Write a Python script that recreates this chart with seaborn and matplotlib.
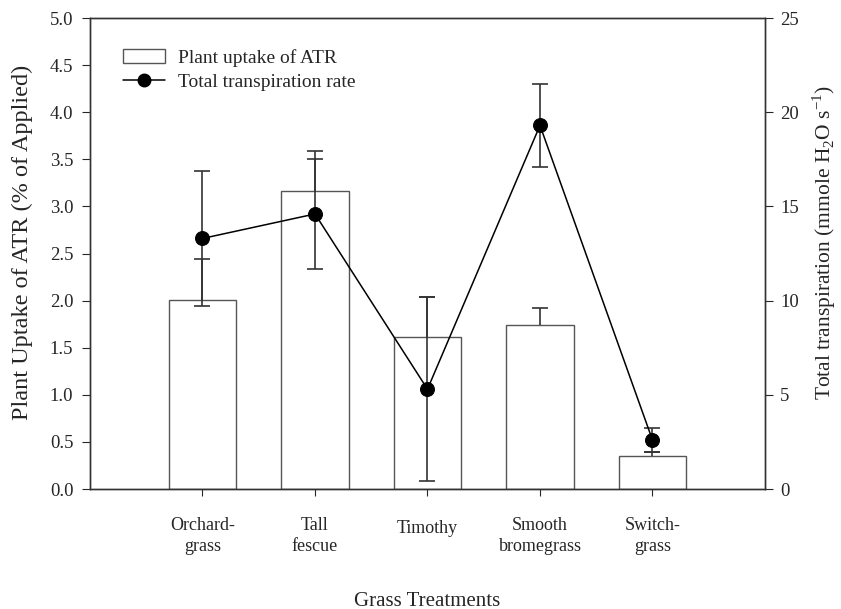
import matplotlib
matplotlib.use("Agg")
import matplotlib.pyplot as plt
import matplotlib.transforms as mtransforms
import numpy as np
import seaborn as sns
from matplotlib.patches import Patch
from matplotlib.lines import Line2D

# data
grasses = ["Orchard-\ngrass", "Tall\nfescue", "Timothy", "Smooth\nbromegrass", "Switch-\ngrass"]
uptake = [2.01, 3.16, 1.61, 1.74, 0.35]          # % of applied
uptake_se = [0.43, 0.43, 0.43, 0.18, 0.04]
transp = [13.3, 14.6, 5.3, 19.3, 2.6]             # mmole H2O s-1
transp_se = [3.6, 2.9, 4.9, 2.2, 0.66]

sns.set_style("ticks")
plt.rcParams["font.family"] = ["Liberation Serif", "DejaVu Serif"]
plt.rcParams["mathtext.fontset"] = "custom"
plt.rcParams["mathtext.rm"] = "Liberation Serif"

edge = "#555555"
err_col = "#333333"
pos = np.arange(len(grasses))

fig, ax = plt.subplots(figsize=(8.41, 6.09), dpi=100)
fig.subplots_adjust(left=0.107, right=0.9096, top=0.9704, bottom=0.197)

sns.barplot(x=pos, y=uptake, ax=ax, color="white", edgecolor=edge,
            linewidth=1.0, width=0.6, native_scale=True, saturation=1)
# upper-only error bars on the bars (no cap at the bar top)
bar_top = np.array(uptake) + np.array(uptake_se)
ax.vlines(pos, uptake, bar_top, color=err_col, linewidth=1.2)
ax.plot(pos, bar_top, ls="none", marker="_", markersize=11,
        markeredgewidth=1.2, color=err_col)

ax.set_xlim(-1, 5)
ax.set_ylim(0, 5)
yt = np.arange(0, 5.01, 0.5)
ax.set_yticks(yt)
ax.set_yticklabels([f"{v:.1f}" for v in yt])
ax.set_xticks(pos)
ax.set_xticklabels(grasses, va="center", linespacing=1.3)
ax.tick_params(axis="x", length=5, pad=29, labelsize=13)
ax.tick_params(axis="y", length=6, pad=6, labelsize=13.5)
# single-line label sits a bit higher, as in the original
for lab in ax.get_xticklabels():
    if "\n" not in lab.get_text():
        lab.set_transform(lab.get_transform() +
                          mtransforms.ScaledTranslation(0, 5.5 / 72, fig.dpi_scale_trans))

ax.set_ylabel("Plant Uptake of ATR (% of Applied)", fontsize=17.5)
ax.yaxis.set_label_coords(-0.085, 0.524)
ax.set_xlabel("Grass Treatments", fontsize=15, va="center")
ax.xaxis.set_label_coords(0.5, -0.238)

ax2 = ax.twinx()
ax2.errorbar(pos, transp, yerr=transp_se, fmt="none", ecolor=err_col,
             elinewidth=1.2, capsize=5.5, capthick=1.2)
sns.lineplot(x=pos, y=transp, ax=ax2, color="black", linewidth=1.1,
             marker="o", markersize=10, markeredgecolor="black")
ax2.set_ylim(0, 25)
ax2.set_yticks(np.arange(0, 26, 5))
ax2.tick_params(axis="y", length=6, pad=5, labelsize=13.5)
ax2.set_ylabel(r"Total transpiration (mmole H$_\mathregular{2}$O s$^\mathregular{-1}$)",
               fontsize=15.5, rotation=90, va="center")
ax2.yaxis.set_label_coords(1.088, 0.524)

for a in (ax, ax2):
    for s in a.spines.values():
        s.set_color("#333333")
        s.set_linewidth(1.0)

handles = [Patch(facecolor="white", edgecolor=edge, linewidth=1.0),
           Line2D([], [], color="black", marker="o", markersize=9, linewidth=1.1)]
ax2.legend(handles, ["Plant uptake of ATR", "Total transpiration rate"],
           loc="upper left", bbox_to_anchor=(0.049, 0.934), frameon=False,
           borderpad=0, borderaxespad=0, fontsize=14, handlelength=2.15,
           handletextpad=0.65, labelspacing=0.32)

fig.savefig("out.png", dpi=100)
